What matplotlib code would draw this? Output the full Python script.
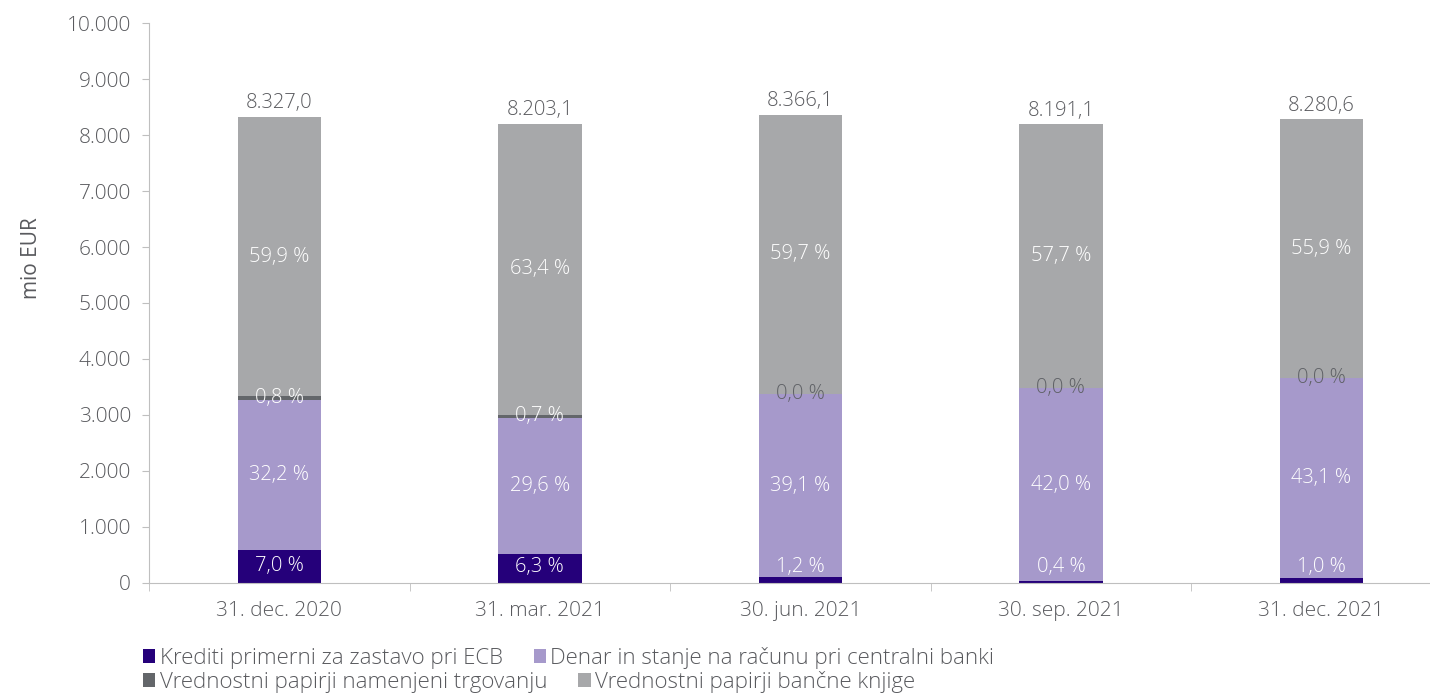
import numpy as np
import matplotlib.pyplot as plt
from matplotlib.ticker import FuncFormatter, MultipleLocator

plt.rcParams['font.family'] = ['Open Sans', 'DejaVu Sans']
plt.rcParams['font.weight'] = 'light'

dates = ['31. dec. 2020', '31. mar. 2021', '30. jun. 2021', '30. sep. 2021', '31. dec. 2021']
totals = [8327.0, 8203.1, 8366.1, 8191.1, 8280.6]

krediti = [582.9, 516.8, 100.4, 32.8, 82.8]
denar = [2681.3, 2428.1, 3271.1, 3440.3, 3568.9]
trgovanje = [66.6, 57.4, 0.0, 0.0, 0.0]
bancna = [4987.9, 5200.8, 4994.6, 4726.3, 4628.9]

pct_krediti = ['7,0 %', '6,3 %', '1,2 %', '0,4 %', '1,0 %']
pct_denar = ['32,2 %', '29,6 %', '39,1 %', '42,0 %', '43,1 %']
pct_trgovanje = ['0,8 %', '0,7 %', '0,0 %', '0,0 %', '0,0 %']
pct_bancna = ['59,9 %', '63,4 %', '59,7 %', '57,7 %', '55,9 %']

names = ['Krediti primerni za zastavo pri ECB',
         'Denar in stanje na računu pri centralni banki',
         'Vrednostni papirji namenjeni trgovanju',
         'Vrednostni papirji bančne knjige']
colors = ['#25007a', '#a699cb', '#63666a', '#a7a8aa']
txt = '#595a5e'

fig = plt.figure(figsize=(14.3, 6.97), dpi=100)
ax = fig.add_axes([0.1042, 0.164, 0.911, 0.8027])

x = np.arange(len(dates))
w = 0.32
series = [krediti, denar, trgovanje, bancna]
labels = [pct_krediti, pct_denar, pct_trgovanje, pct_bancna]
bottom = np.zeros(len(dates))
bars = []
for vals, col, name in zip(series, colors, names):
    b = ax.bar(x, vals, w, bottom=bottom, color=col, label=name, zorder=2)
    bars.append(b)
    bottom = bottom + np.array(vals)

# segment labels
bottom = np.zeros(len(dates))
for k, (vals, labs) in enumerate(zip(series, labels)):
    for i in range(len(dates)):
        yc = bottom[i] + vals[i] / 2
        if k == 0:
            yc = max(yc, 280)
        c = 'white'
        if labs[i] == '0,0 %':
            c = '#5f6166'
        ax.text(x[i], yc, labs[i], ha='center', va='center', color=c, fontsize=14.5, zorder=3)
    bottom = bottom + np.array(vals)

for i, t in enumerate(totals):
    s = f'{t:,.1f}'.replace(',', 'X').replace('.', ',').replace('X', '.')
    ax.text(x[i], t + 60, s, ha='center', va='bottom', color=txt, fontsize=14.5)

ax.set_xlim(-0.5, 4.5)
ax.set_ylim(0, 10000)
ax.yaxis.set_major_locator(MultipleLocator(1000))
ax.yaxis.set_major_formatter(FuncFormatter(lambda v, p: f'{int(v):,}'.replace(',', '.')))
ax.set_xticks(x)
ax.set_xticklabels(dates)
ax.set_xticks(np.arange(-0.5, 5, 1), minor=True)
ax.tick_params(axis='x', which='major', length=0, pad=13, labelsize=15, labelcolor=txt)
ax.tick_params(axis='x', which='minor', length=6, color='#bfbfbf')
ax.tick_params(axis='y', length=5, color='#bfbfbf', labelsize=15, labelcolor=txt, pad=8)

for s in ['top', 'right']:
    ax.spines[s].set_visible(False)
for s in ['left', 'bottom']:
    ax.spines[s].set_color('#bfbfbf')

ax.set_ylabel('mio EUR', fontsize=15, color=txt)
ax.yaxis.set_label_coords(-0.082, 0.58)

# two legend rows, each flowing on its own like the original
rows = [([bars[0], bars[1]], [names[0], names[1]], 0.056),
        ([bars[2], bars[3]], [names[2], names[3]], 0.0215)]
for hs, ls, yy in rows:
    leg = fig.legend(hs, ls, ncol=2, loc='center left', bbox_to_anchor=(0.1, yy),
                     frameon=False, fontsize=16, handlelength=0.55, handleheight=0.55,
                     handletextpad=0.2, columnspacing=1.4, borderpad=0, borderaxespad=0)
    for t in leg.get_texts():
        t.set_color(txt)

fig.savefig('out.png', dpi=100)
